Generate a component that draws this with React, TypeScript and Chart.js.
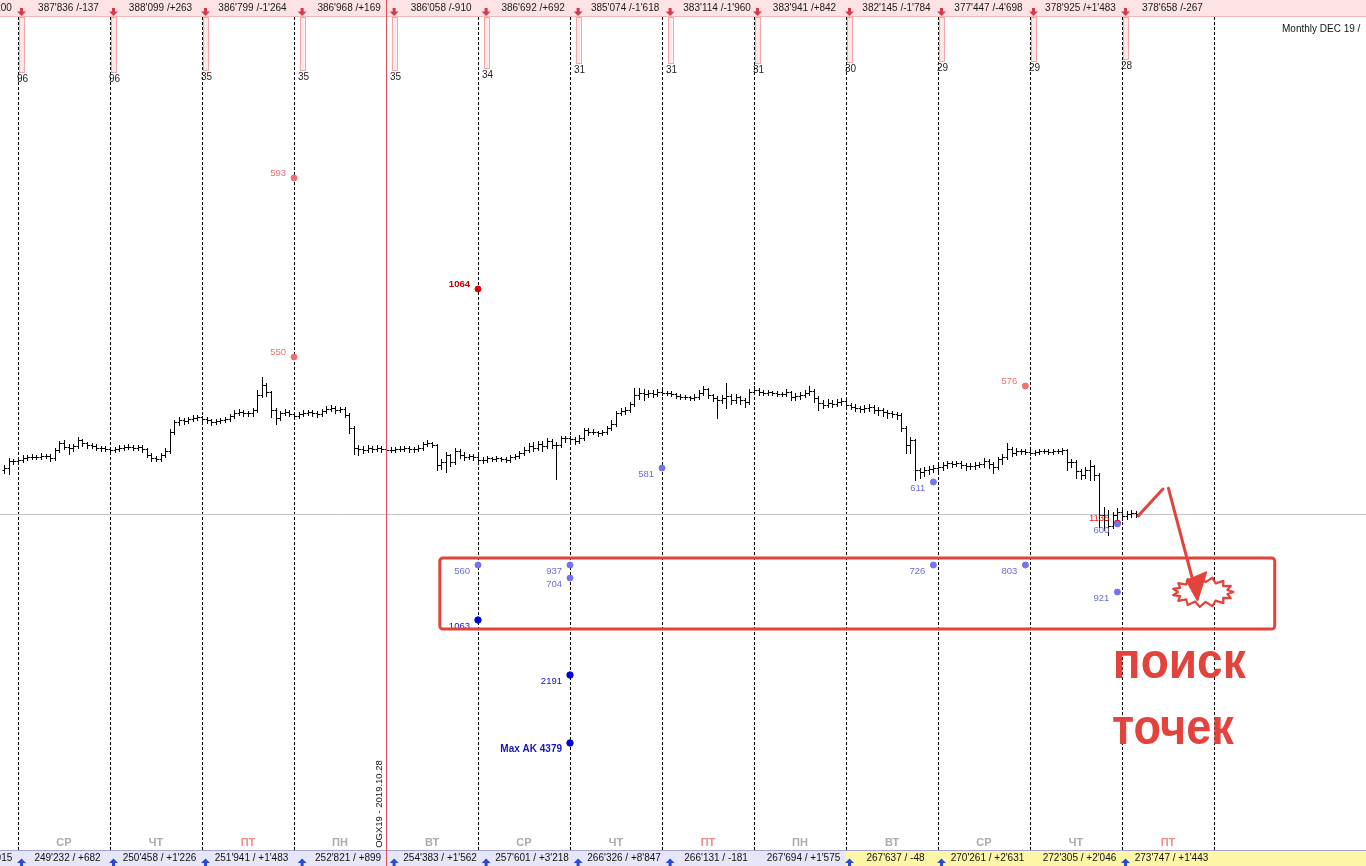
import React, { useEffect, useRef } from "react";
import { Chart, registerables } from "chart.js";

Chart.register(...registerables);

// ---------- data ----------
const BARS_PER_DAY = 20;
const FIRST_BAR = -3;
const FIRST_OPEN = 530;

const closes = [
  532, 539, 539, 540, 542, 543, 543, 543, 544, 544, 542, 550, 557,
  553, 552, 554, 560, 557, 555, 554, 552, 552, 551,
  550, 551, 552, 553, 553, 552, 553, 551, 545, 542,
  541, 545, 549, 568, 578, 580, 579, 581, 582, 583,
  581, 580, 578, 579, 580, 581, 584, 587, 588, 587,
  587, 590, 605, 615, 608, 590, 582, 587, 588, 586,
  584, 586, 587, 588, 587, 586, 589, 591, 592, 590,
  591, 585, 572, 552, 551, 550, 552, 551, 552, 551,
  550, 550, 551, 551, 552, 551, 551, 552, 556, 557,
  555, 535, 538, 545, 538, 549, 545, 543, 544, 543,
  540, 540, 542, 541, 542, 541, 540, 543, 544, 547,
  550, 554, 552, 556, 554, 559, 555, 555, 562, 562,
  561, 559, 562, 570, 568, 568, 567, 568, 572, 576,
  587, 589, 590, 596, 605, 607, 606, 607, 606, 608,
  607, 607, 606, 604, 603, 603, 602, 603, 607, 611,
  605, 602, 600, 602, 604, 600, 603, 600, 598, 608,
  610, 608, 607, 608, 607, 606, 606, 608, 603, 604,
  605, 607, 609, 602, 597, 595, 597, 596, 598, 599,
  595, 593, 592, 591, 592, 593, 590, 590, 588, 587,
  586, 585, 572, 555, 560, 530, 528, 530, 531, 532,
  533, 535, 537, 536, 537, 535, 534, 534, 535, 536,
  539, 536, 533, 541, 543, 551, 547, 549, 549, 548,
  547, 548, 549, 549, 548, 549, 549, 550, 538, 538,
  529, 525, 530, 534, 525, 485, 480, 474, 485, 488,
  484, 486, 487, 486,
];

const highs = [
  535, 542, 541, 543, 545, 545, 546, 545, 547, 546, 546, 552, 559,
  560, 556, 556, 563, 561, 558, 557, 556, 554, 554,
  553, 553, 555, 555, 556, 555, 555, 555, 552, 547,
  544, 547, 552, 571, 580, 583, 582, 583, 585, 585,
  584, 583, 581, 581, 582, 583, 586, 590, 591, 590,
  589, 592, 610, 623, 617, 609, 592, 589, 591, 590,
  588, 588, 590, 590, 590, 589, 591, 594, 595, 594,
  593, 593, 587, 574, 555, 554, 555, 554, 555, 554,
  553, 553, 553, 554, 554, 554, 553, 555, 558, 560,
  558, 556, 541, 548, 546, 552, 551, 548, 546, 546,
  545, 543, 544, 543, 544, 543, 543, 545, 546, 549,
  553, 557, 558, 559, 559, 562, 561, 558, 564, 564,
  564, 563, 565, 572, 572, 571, 569, 570, 574, 580,
  589, 592, 593, 598, 612, 612, 611, 610, 610, 611,
  610, 609, 609, 607, 606, 605, 604, 606, 610, 614,
  612, 606, 604, 605, 617, 606, 606, 604, 602, 611,
  614, 612, 610, 610, 609, 609, 608, 611, 609, 607,
  608, 610, 614, 611, 604, 600, 601, 600, 601, 602,
  601, 597, 596, 594, 595, 596, 595, 593, 592, 590,
  589, 588, 587, 574, 563, 561, 532, 533, 534, 535,
  536, 538, 539, 539, 539, 539, 537, 537, 538, 538,
  542, 541, 538, 543, 546, 557, 553, 552, 551, 551,
  550, 550, 551, 551, 551, 551, 551, 552, 551, 541,
  540, 531, 533, 540, 535, 527, 493, 490, 488, 492,
  491, 489, 490, 489,
];

const lows = [
  527, 526, 536, 537, 538, 540, 541, 541, 541, 542, 539, 540, 548,
  551, 546, 549, 552, 554, 552, 552, 550, 549, 549,
  548, 548, 549, 550, 551, 550, 550, 548, 543, 539,
  539, 539, 543, 547, 566, 575, 576, 577, 579, 580,
  579, 577, 575, 576, 577, 578, 579, 582, 585, 584,
  584, 584, 588, 603, 604, 583, 576, 580, 585, 584,
  582, 582, 584, 585, 584, 583, 584, 587, 589, 587,
  588, 583, 567, 546, 545, 547, 548, 548, 549, 548,
  547, 548, 548, 549, 549, 548, 548, 549, 550, 554,
  553, 530, 531, 528, 534, 536, 542, 540, 541, 540,
  538, 537, 538, 539, 539, 539, 538, 538, 541, 542,
  545, 548, 549, 550, 549, 552, 552, 521, 553, 558,
  558, 556, 557, 560, 565, 566, 564, 565, 566, 570,
  574, 585, 586, 588, 594, 601, 600, 603, 603, 604,
  605, 605, 604, 602, 601, 601, 600, 600, 601, 605,
  602, 599, 582, 597, 592, 596, 597, 596, 593, 596,
  606, 605, 605, 605, 605, 604, 604, 604, 600, 600,
  601, 603, 605, 598, 590, 592, 593, 593, 594, 595,
  593, 591, 589, 588, 588, 589, 587, 585, 584, 582,
  583, 581, 569, 547, 547, 520, 522, 524, 526, 528,
  529, 530, 532, 533, 534, 532, 530, 531, 531, 533,
  533, 532, 527, 531, 536, 541, 544, 545, 546, 546,
  545, 545, 546, 547, 546, 546, 547, 546, 530, 533,
  522, 521, 522, 520, 520, 473, 470, 465, 472, 478,
  480, 481, 483, 483,
];

// sessions (k = -1 .. 12)
const sessionStart = [-20, 0, 20, 40, 61, 81, 101, 121, 141, 160, 180, 200, 220, 240];
const topLabels = [
  "387'973 /+1'200", "387'836 /-137", "388'099 /+263", "386'799 /-1'264", "386'968 /+169",
  "386'058 /-910", "386'692 /+692", "385'074 /-1'618", "383'114 /-1'960", "383'941 /+842",
  "382'145 /-1'784", "377'447 /-4'698", "378'925 /+1'483", "378'658 /-267",
];
const bottomLabels = [
  "248'550 / +1'015", "249'232 / +682", "250'458 / +1'226", "251'941 / +1'483", "252'821 / +899",
  "254'383 / +1'562", "257'601 / +3'218", "266'326 / +8'847", "266'131 / -181", "267'694 / +1'575",
  "267'637 / -48", "270'261 / +2'631", "272'305 / +2'046", "273'747 / +1'443",
];
const bottomArrowShown = [1, 1, 1, 1, 1, 1, 1, 1, 1, 0, 1, 1, 0, 1];
const volLabels = ["", "96", "96", "35", "35", "35", "34", "31", "31", "31", "30", "29", "29", "28"];
const volLevels = [0, 928, 928, 930, 930, 930, 932, 937, 937, 937, 938, 939, 939, 941];

const dayNames = ["СР", "ЧТ", "ПТ", "ПН", "ВТ", "СР", "ЧТ", "ПТ", "ПН", "ВТ", "СР", "ЧТ", "ПТ"];
const DAY_LINES = 14;
const SPLIT_DAY = 4;
const YELLOW_FROM_DAY = 9;

const salmonX = [60, 60, 219];
const salmonY = [822, 643, 614];
const salmonText = ["593", "550", "576"];

const redX = [100, 239];
const redY = [711, 477];
const redText = ["1064", "1135"];

const violetX = [140, 199, 239, 100, 120, 120, 199, 219, 239];
const violetY = [532, 518, 476, 435, 435, 422, 435, 435, 408];
const violetText = ["581", "611", "600", "560", "937", "704", "726", "803", "921"];

const navyX = [100, 120, 120];
const navyY = [380, 325, 257];
const navyText = ["1063", "2191", "Max AK 4379"];

const FONT = '"Liberation Sans", Arial, sans-serif';

function pts(xs: number[], ys: number[]) {
  return xs.map((x, i) => ({ x, y: ys[i] }));
}

const overlay = {
  id: "overlay",
  beforeDatasetsDraw(chart: any) {
    const { ctx, scales } = chart;
    const px = (v: number) => scales.x.getPixelForValue(v);
    const py = (v: number) => scales.y.getPixelForValue(v);
    const W = chart.width;
    ctx.save();
    // day separators
    ctx.lineWidth = 1;
    ctx.strokeStyle = "#000";
    ctx.setLineDash([3, 2]);
    for (let k = 0; k < DAY_LINES; k++) {
      if (k === SPLIT_DAY) continue;
      const xx = Math.round(px(k * BARS_PER_DAY)) + 0.5;
      ctx.beginPath();
      ctx.moveTo(xx, 17);
      ctx.lineTo(xx, 850);
      ctx.stroke();
    }
    ctx.setLineDash([]);
    // current price line
    const last = closes[closes.length - 1];
    const yl = Math.round(py(last)) + 0.5;
    ctx.strokeStyle = "#c4c4c4";
    ctx.beginPath();
    ctx.moveTo(0, yl);
    ctx.lineTo(W, yl);
    ctx.stroke();
    // OHLC bars
    ctx.strokeStyle = "#000";
    ctx.beginPath();
    for (let i = 0; i < closes.length; i++) {
      const idx = FIRST_BAR + i;
      const o = i === 0 ? FIRST_OPEN : closes[i - 1];
      const X = Math.round(px(idx)) + 0.5;
      const yH = Math.round(py(highs[i]));
      const yL = Math.round(py(lows[i]));
      ctx.moveTo(X, yH);
      ctx.lineTo(X, yL + 1);
      const yO = Math.round(py(o)) + 0.5;
      ctx.moveTo(X - 2, yO);
      ctx.lineTo(X, yO);
      const yC = Math.round(py(closes[i])) + 0.5;
      ctx.moveTo(X, yC);
      ctx.lineTo(X + 2.5, yC);
    }
    ctx.stroke();
    ctx.restore();
  },
  afterDatasetsDraw(chart: any) {
    const { ctx, scales } = chart;
    const px = (v: number) => scales.x.getPixelForValue(v);
    const py = (v: number) => scales.y.getPixelForValue(v);
    const W = chart.width;
    const H = chart.height;
    ctx.save();

    // dot labels
    chart.data.datasets.forEach((ds: any, di: number) => {
      const meta = chart.getDatasetMeta(di);
      meta.data.forEach((el: any, j: number) => {
        const txt = ds.labelTexts[j];
        ctx.font = (ds.labelBold && ds.labelBold[j] ? "bold " : "") + ds.labelSizes[j] + "px " + FONT;
        ctx.fillStyle = ds.labelColors[j];
        ctx.textAlign = "right";
        ctx.textBaseline = "middle";
        ctx.fillText(txt, el.x - 8, el.y + ds.labelDy);
      });
    });

    // top bar
    ctx.fillStyle = "#fde3e3";
    ctx.fillRect(0, 0, W, 17);
    ctx.strokeStyle = "#f2b6b6";
    ctx.lineWidth = 1;
    ctx.beginPath();
    ctx.moveTo(0, 16.5);
    ctx.lineTo(W, 16.5);
    ctx.stroke();

    sessionStart.forEach((s, k) => {
      const ax = px(s) + 3.5;
      // volume-like rectangles under the bar
      if (volLabels[k]) {
        const yb = py(volLevels[k]);
        ctx.fillStyle = "#fde8e8";
        ctx.fillRect(ax - 2.5, 17, 5, yb - 17);
        ctx.strokeStyle = "#f0a8a8";
        ctx.strokeRect(Math.round(ax - 2.5) + 0.5, 17.5, 5, Math.round(yb - 17));
        ctx.fillStyle = "#222";
        ctx.font = "10px " + FONT;
        ctx.textAlign = "left";
        ctx.textBaseline = "middle";
        ctx.fillText(volLabels[k], Math.round(ax - 4.5), yb + 7);
      }
      // red down arrow
      ctx.fillStyle = "#d8384c";
      ctx.fillRect(ax - 1.5, 8, 3, 4);
      ctx.beginPath();
      ctx.moveTo(ax - 4.5, 11.5);
      ctx.lineTo(ax + 4.5, 11.5);
      ctx.lineTo(ax, 16);
      ctx.closePath();
      ctx.fill();
      // label
      ctx.fillStyle = "#1a1a1a";
      ctx.font = "10px " + FONT;
      ctx.textAlign = "center";
      ctx.textBaseline = "middle";
      ctx.fillText(topLabels[k], ax + 47, 8.5);
    });

    // day names
    ctx.font = "bold 11px " + FONT;
    ctx.textAlign = "center";
    ctx.textBaseline = "middle";
    dayNames.forEach((d, k) => {
      ctx.fillStyle = d === "ПТ" ? "#f28a8a" : "#ababab";
      ctx.fillText(d, px(k * BARS_PER_DAY + BARS_PER_DAY / 2), 843);
    });

    // bottom bar
    ctx.fillStyle = "#e6e6f8";
    ctx.fillRect(0, 850, W, H - 850);
    const yx = px(YELLOW_FROM_DAY * BARS_PER_DAY) - 1;
    ctx.fillStyle = "#fdf6a8";
    ctx.fillRect(yx, 850, W - yx, H - 850);
    ctx.strokeStyle = "#a4a4d4";
    ctx.beginPath();
    ctx.moveTo(0, 850.5);
    ctx.lineTo(W, 850.5);
    ctx.stroke();
    sessionStart.forEach((s, k) => {
      const ax = px(s) + 3.5;
      if (bottomArrowShown[k]) {
        ctx.fillStyle = "#2a48d0";
        ctx.beginPath();
        ctx.moveTo(ax - 4.5, 863);
        ctx.lineTo(ax + 4.5, 863);
        ctx.lineTo(ax, 858.5);
        ctx.closePath();
        ctx.fill();
        ctx.fillRect(ax - 1.5, 862.5, 3, 4);
      }
      ctx.fillStyle = "#111";
      ctx.font = "10px " + FONT;
      ctx.textAlign = "center";
      ctx.textBaseline = "middle";
      ctx.fillText(bottomLabels[k], ax + 46, 858.5);
    });

    // split line (contract roll)
    const rx = Math.round(px(SPLIT_DAY * BARS_PER_DAY)) + 0.5;
    ctx.strokeStyle = "#e0505c";
    ctx.beginPath();
    ctx.moveTo(rx, 0);
    ctx.lineTo(rx, H);
    ctx.stroke();
    ctx.save();
    ctx.translate(px(78.6), py(196));
    ctx.rotate(-Math.PI / 2);
    ctx.fillStyle = "#111";
    ctx.font = "9.5px " + FONT;
    ctx.textAlign = "center";
    ctx.textBaseline = "middle";
    ctx.fillText("OGX19 - 2019.10.28", 0, 0);
    ctx.restore();

    // header right
    ctx.fillStyle = "#111";
    ctx.font = "10px " + FONT;
    ctx.textAlign = "left";
    ctx.textBaseline = "middle";
    ctx.fillText("Monthly DEC 19 /", W - 84, 29);

    // hand-drawn annotation
    const red = "#e3433d";
    ctx.strokeStyle = red;
    ctx.lineWidth = 3;
    ctx.lineJoin = "round";
    ctx.lineCap = "round";
    const bx0 = px(91.7), bx1 = px(273.2), by0 = py(442), by1 = py(371);
    ctx.beginPath();
    (ctx as any).roundRect ? (ctx as any).roundRect(bx0, by0, bx1 - bx0, by1 - by0, 3) : ctx.rect(bx0, by0, bx1 - bx0, by1 - by0);
    ctx.stroke();

    // starburst
    const cx = px(257.6), cy = py(408);
    const n = 30;
    ctx.beginPath();
    for (let i = 0; i < n; i++) {
      const a = (i / n) * Math.PI * 2;
      const outer = i % 2 === 0;
      const rxx = outer ? 30.5 : 25;
      const ryy = outer ? 15 : 10;
      const X = cx + Math.cos(a) * rxx;
      const Y = cy + Math.sin(a) * ryy;
      if (i === 0) ctx.moveTo(X, Y);
      else ctx.lineTo(X, Y);
    }
    ctx.closePath();
    ctx.fillStyle = "#fff";
    ctx.fill();
    ctx.lineWidth = 2.2;
    ctx.stroke();

    // arrow
    ctx.lineWidth = 3;
    ctx.beginPath();
    ctx.moveTo(px(243.5), py(484));
    ctx.lineTo(px(248.9), py(511));
    ctx.moveTo(px(250.1), py(511.7));
    ctx.lineTo(px(256.4), py(402));
    ctx.stroke();
    ctx.fillStyle = red;
    ctx.beginPath();
    ctx.moveTo(px(254.1), py(419.3));
    ctx.lineTo(px(258.3), py(427.7));
    ctx.lineTo(px(256.4), py(400));
    ctx.closePath();
    ctx.fill();
    ctx.lineWidth = 2;
    ctx.stroke();

    // big text
    const bigText = (t: string, xi: number, yv: number, width: number) => {
      ctx.save();
      ctx.font = "bold 50px " + FONT;
      const m = ctx.measureText(t).width;
      ctx.translate(px(xi), py(yv));
      ctx.scale(width / m, 1);
      ctx.fillStyle = red;
      ctx.textAlign = "left";
      ctx.textBaseline = "alphabetic";
      ctx.fillText(t, 0, 0);
      ctx.restore();
    };
    bigText("поиск", 238.0, 322, 133);
    bigText("точек", 237.8, 256, 122);

    ctx.restore();
  },
};

export default function App() {
  const ref = useRef<HTMLCanvasElement>(null);
  useEffect(() => {
    const canvas = ref.current;
    if (!canvas) return;
    const chart = new Chart(canvas, {
      type: "scatter",
      data: {
        datasets: [
          {
            label: "violet",
            data: pts(violetX, violetY),
            backgroundColor: "#7474f0",
            borderColor: "#7474f0",
            pointRadius: 3,
            order: 0,
            labelTexts: violetText,
            labelColors: violetText.map(() => "#6b6be0"),
            labelSizes: violetText.map(() => 9.5),
            labelDy: 6,
          } as any,
          {
            label: "red",
            data: pts(redX, redY),
            backgroundColor: "#e00000",
            borderColor: "#e00000",
            pointRadius: 3,
            order: 1,
            labelTexts: redText,
            labelColors: ["#c00000", "#f02020"],
            labelSizes: [9.5, 9.5],
            labelBold: [true, false],
            labelDy: -5,
          } as any,
          {
            label: "salmon",
            data: pts(salmonX, salmonY),
            backgroundColor: "#f07070",
            borderColor: "#f07070",
            pointRadius: 3,
            order: 2,
            labelTexts: salmonText,
            labelColors: salmonText.map(() => "#f07070"),
            labelSizes: salmonText.map(() => 9.5),
            labelDy: -5,
          } as any,
          {
            label: "navy",
            data: pts(navyX, navyY),
            backgroundColor: "#0000e0",
            borderColor: "#0000e0",
            pointRadius: 3.2,
            order: 3,
            labelTexts: navyText,
            labelColors: navyText.map(() => "#1414b8"),
            labelSizes: [9.5, 9.5, 10],
            labelBold: [false, false, true],
            labelDy: 6,
          } as any,
        ],
      },
      options: {
        animation: false,
        responsive: false,
        devicePixelRatio: 1,
        layout: { padding: 0, autoPadding: false },
        plugins: { legend: { display: false }, tooltip: { enabled: false } },
        events: [],
        scales: {
          x: { type: "linear", min: -18 / 4.6, max: 1348 / 4.6, display: false, offset: false },
          y: { type: "linear", min: 134, max: 1000, display: false },
        },
      },
      plugins: [overlay],
    });
    return () => chart.destroy();
  }, []);
  return (
    <div style={{ position: "fixed", left: 0, top: 0, width: 1366, height: 866, background: "#fff" }}>
      <canvas ref={ref} width={1366} height={866} style={{ display: "block" }} />
    </div>
  );
}
